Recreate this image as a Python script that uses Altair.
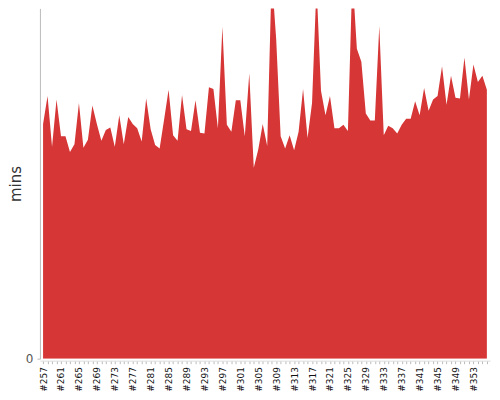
import altair as alt
import pandas as pd

builds = list(range(257, 357))
mins = [
    26.8, 30.0, 24.2, 29.6, 25.4, 25.4, 23.6, 24.5, 29.2, 24.1,
    25.0, 28.9, 26.8, 24.9, 26.1, 26.4, 24.2, 27.8, 24.5, 27.6,
    26.8, 26.3, 24.8, 29.7, 26.2, 24.4, 24.0, 27.3, 30.7, 25.5,
    24.9, 30.1, 26.2, 26.0, 29.5, 25.8, 25.7, 31.0, 30.8, 26.3,
    37.9, 26.7, 25.9, 29.5, 29.5, 25.4, 32.6, 21.8, 23.9, 26.8,
    24.3, 43.8, 36.5, 25.4, 24.0, 25.5, 23.8, 25.9, 30.8, 25.2,
    29.2, 42.7, 30.6, 27.8, 30.0, 26.3, 26.3, 26.7, 26.0, 43.8,
    35.4, 33.9, 28.0, 27.2, 27.2, 38.0, 25.5, 26.6, 26.3, 25.7,
    26.7, 27.4, 27.4, 29.4, 27.8, 30.9, 28.3, 29.6, 30.0, 33.4,
    29.0, 32.3, 29.8, 29.7, 34.4, 29.6, 33.6, 31.6, 32.3, 30.7,
]
labels = ["#" + str(b) for b in builds]

df = pd.DataFrame({"build": labels, "mins": mins})

chart = alt.Chart(df).mark_area(color="#d63636", clip=True, opacity=1).encode(
    x=alt.X(
        "build:O",
        sort=labels,
        title=None,
        scale=alt.Scale(padding=0.7),
        axis=alt.Axis(
            labelAngle=-90,
            labelFont="DejaVu Sans",
            labelFontSize=9,
            labelColor="#111",
            labelPadding=3,
            tickSize=3,
            tickColor="#bbb",
            domain=True,
            domainColor="#ddd",
            offset=2,
            labelExpr="(toNumber(substring(datum.value,1)) - 257) % 4 == 0 ? datum.value : ''",
        ),
    ),
    y=alt.Y(
        "mins:Q",
        title="mins",
        scale=alt.Scale(domain=[0, 40], nice=False),
        axis=alt.Axis(
            values=[0],
            grid=False,
            domainColor="#bbb",
            tickColor="#bbb",
            tickSize=3,
            labelColor="#555",
            labelFont="DejaVu Sans",
            labelFontSize=12,
            labelPadding=4,
            titleFont="DejaVu Sans",
            titleFontSize=15,
            titleFontWeight="normal",
            titleColor="#333",
            titlePadding=2,
        ),
    ),
).properties(
    width=451,
    height=351,
    padding={"left": 0, "top": 0, "right": 0, "bottom": 0},
).configure_view(stroke=None)

chart.save("out.html", embed_options={"renderer": "svg", "actions": False})
